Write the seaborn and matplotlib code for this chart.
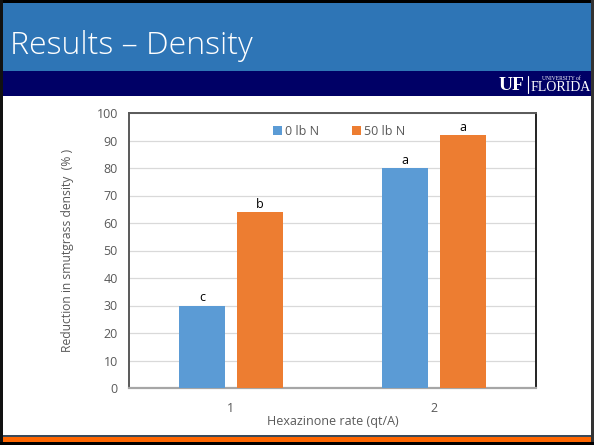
import matplotlib
matplotlib.use("Agg")
import matplotlib.pyplot as plt
import seaborn as sns
import pandas as pd
from matplotlib.patches import Rectangle
from matplotlib.lines import Line2D

# ---- data ----
rates = ["1", "1", "2", "2"]
nitrogen = ["0 lb N", "50 lb N", "0 lb N", "50 lb N"]
reduction = [30, 64, 80, 92]
letters_0N = ["c", "a"]
letters_50N = ["b", "a"]
hue_order = ["0 lb N", "50 lb N"]
colors = ["#5B9BD5", "#ED7D31"]

df = pd.DataFrame({"rate": rates, "N": nitrogen, "red": reduction})

sns.set_theme(style="white")
plt.rcParams["font.family"] = ["Open Sans", "DejaVu Sans"]

W, H = 594, 445
fig = plt.figure(figsize=(W / 100, H / 100), dpi=100)
fig.patch.set_facecolor("white")

def frect(x0, y0, x1, y1, color, z=0):
    fig.patches.append(Rectangle((x0 / W, 1 - y1 / H), (x1 - x0) / W, (y1 - y0) / H,
                                 transform=fig.transFigure, color=color, zorder=z, lw=0))

# slide decorations
frect(0, 0, W, 3, "#000000")
frect(0, 0, 3, H, "#111111")
frect(591, 0, W, H, "#333333")
frect(3, 3, 591, 71, "#2E75B6")
frect(3, 71, 591, 96, "#000066")
frect(3, 435, 591, 437, "#3A4A5A")
frect(3, 437, 591, 442, "#FF6600")
frect(0, 442, W, H, "#000000")

fig.text(10 / W, 1 - 46 / H, "Results \u2013 Density", color="white", fontsize=23,
         fontweight="light", va="center", ha="left", family=["Open Sans", "DejaVu Sans"])
# UF logo approximation
fig.text(524 / W, 1 - 85 / H, "UF", color="white", fontsize=14, fontweight="bold",
         va="center", ha="right", family=["Liberation Serif", "DejaVu Serif"])
fig.lines.append(Line2D([528 / W, 528 / W], [1 - 76 / H, 1 - 93 / H], color="white", lw=0.8,
                        transform=fig.transFigure))
fig.text(561 / W, 1 - 78.5 / H, "UNIVERSITY of", color="white", fontsize=4,
         va="center", ha="center", family=["Liberation Serif", "DejaVu Serif"])
fig.text(561 / W, 1 - 87.5 / H, "FLORIDA", color="white", fontsize=10,
         va="center", ha="center", family=["Liberation Serif", "DejaVu Serif"])

# chart
ax = fig.add_axes([129 / W, 1 - 388 / H, 407 / W, 275 / H])
sns.barplot(data=df, x="rate", y="red", hue="N", hue_order=hue_order, palette=colors,
            width=0.57, gap=0.2, saturation=1, linewidth=0, ax=ax, zorder=3, legend=True)

ax.set_ylim(0, 100)
ax.set_yticks(range(0, 101, 10))
ax.yaxis.grid(True, color="#D9D9D9", lw=0.9, zorder=0)
ax.set_axisbelow(True)
ax.tick_params(axis="both", length=0, labelsize=9, labelcolor="#595959")
ax.tick_params(axis="y", pad=8)
ax.tick_params(axis="x", pad=10)
for s in ["top", "left", "right"]:
    ax.spines[s].set_color("#595959")
    ax.spines[s].set_linewidth(1.4)
ax.spines["right"].set_color("#222222")
ax.spines["bottom"].set_color("#A6A6A6")
ax.spines["bottom"].set_linewidth(1.6)

ax.set_xlabel("Hexazinone rate (qt/A)", fontsize=9, color="#595959", labelpad=0)
ax.set_ylabel("Reduction in smutgrass density  (% )", fontsize=8.7, color="#595959",
              labelpad=16)

for cont, labs in zip(ax.containers, [letters_0N, letters_50N]):
    ax.bar_label(cont, labels=labs, fontsize=9, color="black", padding=1)

leg = ax.legend(loc="upper center", bbox_to_anchor=(0.516, 0.997), ncol=2, frameon=False,
                fontsize=9, handlelength=0.75, handleheight=0.75, handletextpad=0.25,
                columnspacing=2.6)
for t in leg.get_texts():
    t.set_color("#595959")

fig.savefig("out.png", dpi=100)
